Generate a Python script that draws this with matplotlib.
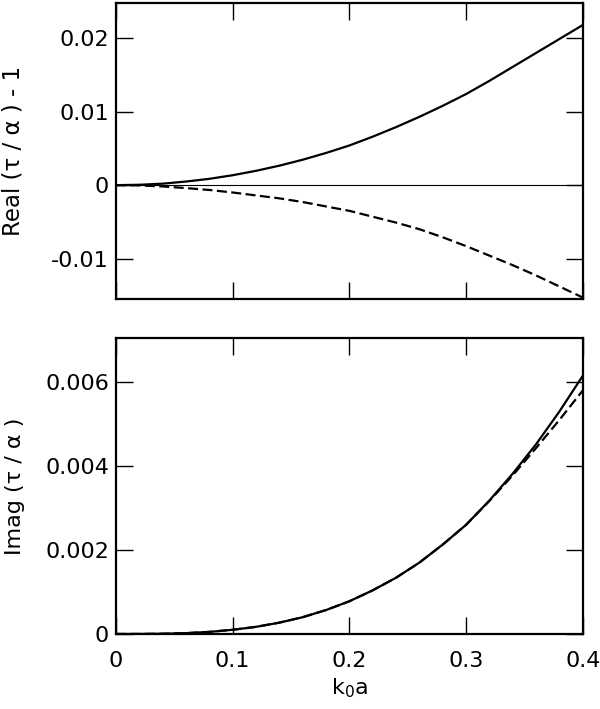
import numpy as np
import matplotlib
matplotlib.use("Agg")
import matplotlib.pyplot as plt

# k0 a values (shared x grid)
ka = [0.00, 0.02, 0.04, 0.06, 0.08, 0.10, 0.12, 0.14, 0.16, 0.18, 0.20,
      0.22, 0.24, 0.26, 0.28, 0.30, 0.32, 0.34, 0.36, 0.38, 0.40]

# Real(tau/alpha) - 1
real_solid = [0.0, 0.00005, 0.0002, 0.00049, 0.00086, 0.00135, 0.00195, 0.00265,
              0.00346, 0.00438, 0.0054, 0.0066, 0.0079, 0.0093, 0.0108, 0.0124,
              0.0142, 0.0161, 0.0180, 0.0199, 0.0218]
real_dashed = [0.0, -0.00004, -0.00018, -0.0004, -0.00066, -0.001, -0.0014, -0.0018,
               -0.0023, -0.0029, -0.0035, -0.0043, -0.0051, -0.0060, -0.0071, -0.0083,
               -0.0096, -0.0109, -0.0123, -0.0138, -0.0153]

# Imag(tau/alpha)
imag_solid = [0.0, 0.000001, 0.000006, 0.00002, 0.00005, 0.0001, 0.00017, 0.00027,
              0.0004, 0.00057, 0.00078, 0.00104, 0.00134, 0.0017, 0.00213, 0.0026,
              0.00318, 0.00382, 0.00452, 0.0053, 0.00615]
imag_dashed = [0.0, 0.000001, 0.000006, 0.00002, 0.00005, 0.0001, 0.00017, 0.00027,
               0.0004, 0.00057, 0.00078, 0.00104, 0.00134, 0.0017, 0.00213, 0.0026,
               0.00317, 0.00378, 0.00443, 0.0051, 0.0058]

xticks = [0, 0.1, 0.2, 0.3, 0.4]
xticklabels = ["0", "0.1", "0.2", "0.3", "0.4"]
real_yticks = [-0.01, 0, 0.01, 0.02]
real_yticklabels = ["-0.01", "0", "0.01", "0.02"]
imag_yticks = [0, 0.002, 0.004, 0.006]
imag_yticklabels = ["0", "0.002", "0.004", "0.006"]

plt.rcParams["font.family"] = ["DejaVu Sans"]
plt.rcParams["mathtext.fontset"] = "dejavusans"

fig = plt.figure(figsize=(6, 7.09), dpi=100)
ax1 = fig.add_axes([0.1933, 0.5783, 0.778, 0.4175])
ax2 = fig.add_axes([0.1933, 0.1058, 0.778, 0.4175])


def style(ax):
    for s in ax.spines.values():
        s.set_linewidth(1.6)
    ax.tick_params(direction="in", length=12.5, width=1.0, top=True, right=True,
                   labelsize=16)
    ax.tick_params(axis="y", pad=5)
    ax.tick_params(axis="x", pad=12)
    ax.set_xlim(0, 0.4)
    ax.set_xticks(xticks)


ax1.axhline(0, color="k", lw=0.8)
ax1.plot(ka, real_solid, color="k", lw=1.6)
ax1.plot(ka, real_dashed, color="k", lw=1.6, dashes=(4.5, 2))
style(ax1)
ax1.set_ylim(-0.0155, 0.0248)
ax1.set_yticks(real_yticks)
ax1.set_yticklabels(real_yticklabels)
ax1.set_xticklabels([])
ax1.set_ylabel("Real (\u03c4 / \u03b1 ) - 1", fontsize=16.5)
ax1.yaxis.set_label_coords(-0.195, 0.5)

ax2.plot(ka, imag_solid, color="k", lw=1.6)
ax2.plot(ka, imag_dashed, color="k", lw=1.6, dashes=(4.5, 2))
style(ax2)
ax2.set_ylim(0, 0.00705)
ax2.set_yticks(imag_yticks)
ax2.set_yticklabels(imag_yticklabels)
ax2.set_xticklabels(xticklabels)
ax2.set_ylabel("Imag (\u03c4 / \u03b1 )", fontsize=16)
ax2.yaxis.set_label_coords(-0.195, 0.5)
ax2.set_xlabel(r"k$_\mathregular{0}$a", fontsize=16, labelpad=4)

fig.savefig("out.png", dpi=100)
